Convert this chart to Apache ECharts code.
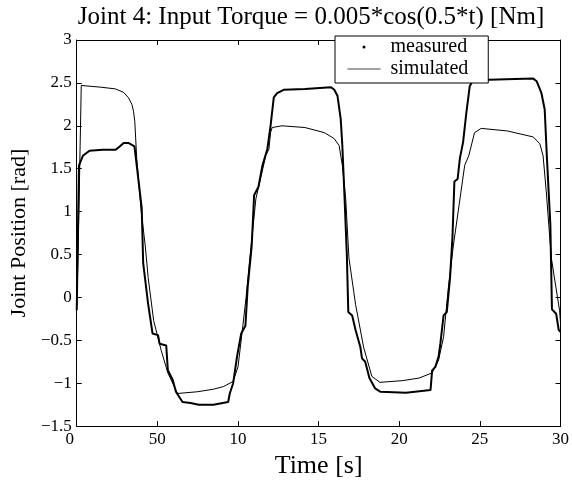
<!DOCTYPE html>
<html>
<head>
<meta charset="utf-8">
<script src="https://cdn.jsdelivr.net/npm/echarts@6/dist/echarts.min.js"></script>
<style>
  html, body { margin: 0; padding: 0; background: #fff; }
  #chart { width: 572px; height: 484px; }
</style>
</head>
<body>
<div id="chart"></div>
<script>
// measured joint position (time [s], position [rad])
const measuredT = [0, 0.05, 0.14, 0.38, 0.79, 1.6, 2.41, 2.61, 2.91, 3.2, 3.58, 3.72, 4.03, 4.12, 4.23,
  4.43, 4.7, 5.04, 5.14, 5.55, 5.65, 5.95, 6.15, 6.56, 7.06, 7.57, 8.48, 9.39, 9.49, 9.7, 9.94,
  10.2, 10.46, 10.6, 10.85, 11.0, 11.27, 11.52, 11.82, 12.02, 12.22, 12.43, 12.83, 14.15, 15.77,
  15.97, 16.17, 16.37, 16.47, 16.6, 16.75, 16.84, 17.08, 17.29, 17.59, 17.69, 17.89, 18.15, 18.5,
  18.84, 20.42, 21.94, 22.04, 22.24, 22.44, 22.55, 22.75, 22.95, 23.15, 23.3, 23.42, 23.62, 23.76,
  23.96, 24.16, 24.37, 24.57, 26.09, 28.31, 28.52, 28.82, 29.02, 29.16, 29.37, 29.47, 29.73, 29.89, 30];
const measuredV = [-0.15, 0.5, 1.54, 1.65, 1.71, 1.72, 1.72, 1.75, 1.8, 1.8, 1.76, 1.54, 1.04, 0.4, 0.23,
  -0.08, -0.42, -0.44, -0.54, -0.56, -0.85, -0.96, -1.1, -1.22, -1.23, -1.25, -1.25, -1.22, -1.12, -1.0, -0.69,
  -0.42, -0.33, 0.12, 0.6, 1.19, 1.29, 1.54, 1.73, 2.0, 2.33, 2.38, 2.42, 2.43, 2.45,
  2.42, 2.35, 2.08, 1.77, 1.2, 0.5, -0.17, -0.21, -0.38, -0.58, -0.71, -0.75, -0.94, -1.06,
  -1.1, -1.11, -1.08, -0.85, -0.81, -0.69, -0.54, -0.21, -0.17, 0.23, 0.7, 1.35, 1.38, 1.62,
  1.81, 2.15, 2.46, 2.53, 2.54, 2.55, 2.52, 2.38, 2.19, 1.62, 0.85, -0.14, -0.19, -0.38, -0.4];

// simulated joint position
const simT = [0, 0.08, 0.28, 1.5, 2.4, 2.9, 3.2, 3.42, 3.52, 3.6, 3.72, 4.0, 4.25, 4.43, 4.77, 5.24, 5.65, 6.25,
  7.47, 8.48, 9.09, 9.7, 10.0, 10.26, 10.5, 10.8, 11.11, 11.72, 11.92, 12.02, 12.12, 12.73, 14.15,
  15.36, 15.97, 16.27, 16.47, 16.68, 16.88, 17.29, 17.79, 18.3, 18.8, 20.22, 21.23, 22.04, 22.44,
  22.75, 23.05, 23.36, 24.06, 24.31, 24.67, 25.08, 26.7, 28.31, 28.72, 28.92, 29.12, 29.43, 29.94, 30];
const simV = [-0.1, 0.46, 2.47, 2.45, 2.43, 2.39, 2.33, 2.25, 2.17, 2.05, 1.62, 1.0, 0.6, 0.23, -0.27, -0.62, -0.88, -1.12,
  -1.1, -1.07, -1.04, -0.98, -0.81, -0.4, 0.0, 0.58, 1.15, 1.65, 1.73, 1.92, 1.98, 2.0, 1.98,
  1.92, 1.85, 1.77, 1.54, 1.15, 0.46, -0.08, -0.58, -0.92, -0.99, -0.97, -0.94, -0.88, -0.73,
  -0.46, 0.12, 0.61, 1.54, 1.65, 1.92, 1.97, 1.94, 1.87, 1.79, 1.65, 1.23, 0.46, -0.15, -0.3];

const xTickLabels = ['0', '50', '10', '15', '20', '25', '30'];  // as printed on the original
const seriesNames = ['measured', 'simulated'];

const FONT = 'Liberation Serif';

function zip(ts, vs) {
    return ts.map(function (t, i) { return [t, vs[i]]; });
}

const chart = echarts.init(document.getElementById('chart'), null, { renderer: 'canvas' });

const tickStyle = { show: true, inside: true, length: 5, lineStyle: { color: '#000', width: 1 } };
const lineStyle = { show: true, onZero: false, lineStyle: { color: '#000', width: 1 } };

const option = {
    animation: false,
    backgroundColor: '#fff',
    title: {
        text: 'Joint 4: Input Torque = 0.005*cos(0.5*t) [Nm]',
        left: 306,
        top: 0,
        textAlign: 'center',
        textStyle: { fontFamily: FONT, fontSize: 25, fontWeight: 'normal', color: '#000' }
    },
    legend: {
        orient: 'vertical',
        left: 335,
        top: 36,
        padding: [1, 20, 4, 12],
        itemGap: 2,
        itemWidth: 33,
        itemHeight: 3,
        backgroundColor: '#fff',
        borderColor: '#000',
        borderWidth: 1,
        borderRadius: 0,
        z: 10,
        textStyle: { fontFamily: FONT, fontSize: 20, color: '#000', padding: [0, 0, 0, 5] },
        data: [
            { name: seriesNames[0], icon: 'circle', itemStyle: { color: '#000' } },
            { name: seriesNames[1], itemStyle: { opacity: 0 }, lineStyle: { width: 1, color: '#444' } }
        ]
    },
    grid: {
        left: 67,
        right: 11,
        top: 40,
        bottom: 54
    },
    xAxis: [
        {
            type: 'value',
            min: 0,
            max: 30,
            interval: 5,
            name: 'Time [s]',
            nameLocation: 'middle',
            nameGap: 22,
            nameTextStyle: { fontFamily: FONT, fontSize: 26, color: '#000' },
            axisLine: lineStyle,
            axisTick: tickStyle,
            splitLine: { show: false },
            axisLabel: {
                margin: 5,
                fontFamily: FONT,
                fontSize: 17,
                color: '#000',
                formatter: function (v) {
                    const s = xTickLabels[Math.round(v / 5)];
                    return v === 0 ? '{first|' + s + '}' : s;
                },
                rich: { first: { fontFamily: FONT, fontSize: 17, color: '#000', padding: [0, 14, 0, 0] } }
            }
        },
        {
            type: 'value',
            position: 'top',
            min: 0,
            max: 30,
            interval: 5,
            axisLine: lineStyle,
            axisTick: tickStyle,
            axisLabel: { show: false },
            splitLine: { show: false }
        }
    ],
    yAxis: [
        {
            type: 'value',
            min: -1.5,
            max: 3,
            interval: 0.5,
            name: 'Joint Position [rad]',
            nameLocation: 'middle',
            nameGap: 37,
            nameTextStyle: { fontFamily: FONT, fontSize: 22, color: '#000' },
            axisLine: lineStyle,
            axisTick: tickStyle,
            splitLine: { show: false },
            axisLabel: {
                margin: 5,
                fontFamily: FONT,
                fontSize: 17,
                color: '#000',
                formatter: function (v) { return String(v).replace('-', '\u2212'); }
            }
        },
        {
            type: 'value',
            position: 'right',
            min: -1.5,
            max: 3,
            interval: 0.5,
            axisLine: lineStyle,
            axisTick: tickStyle,
            axisLabel: { show: false },
            splitLine: { show: false }
        }
    ],
    series: [
        {
            name: seriesNames[0],
            type: 'line',
            data: zip(measuredT, measuredV),
            symbol: 'none',
            itemStyle: { color: '#000' },
            lineStyle: { color: '#000', width: 2 },
            z: 3
        },
        {
            name: seriesNames[1],
            type: 'line',
            data: zip(simT, simV),
            symbol: 'none',
            itemStyle: { color: '#000' },
            lineStyle: { color: '#000', width: 1 },
            z: 2
        }
    ]
};

chart.setOption(option);
</script>
</body>
</html>
